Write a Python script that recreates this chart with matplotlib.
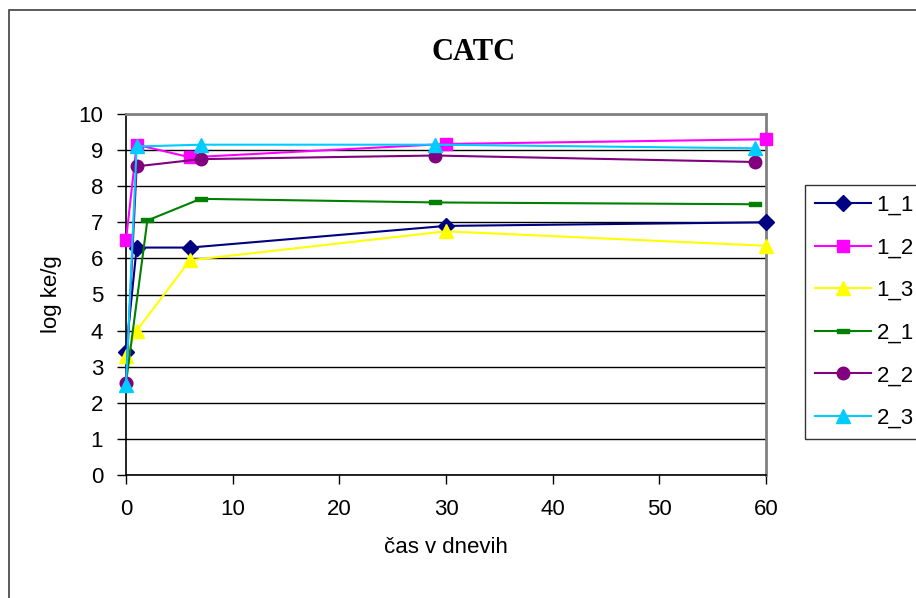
import matplotlib
matplotlib.use("Agg")
import matplotlib.pyplot as plt
from matplotlib.patches import Rectangle

title = "CATC"
xlabel = "čas v dnevih"
ylabel = "log ke/g"

labels = ["1_1", "1_2", "1_3", "2_1", "2_2", "2_3"]
x_1_1 = [0, 1, 6, 30, 60]
y_1_1 = [3.4, 6.3, 6.3, 6.9, 7.0]
x_1_2 = [0, 1, 6, 30, 60]
y_1_2 = [6.5, 9.15, 8.8, 9.17, 9.3]
x_1_3 = [0, 1, 6, 30, 60]
y_1_3 = [3.3, 4.0, 5.95, 6.75, 6.35]
x_2_1 = [0, 2, 7, 29, 59]
y_2_1 = [2.55, 7.05, 7.65, 7.55, 7.5]
x_2_2 = [0, 1, 7, 29, 59]
y_2_2 = [2.55, 8.55, 8.75, 8.85, 8.67]
x_2_3 = [0, 1, 7, 29, 59]
y_2_3 = [2.5, 9.1, 9.15, 9.15, 9.05]

xticks = [0, 10, 20, 30, 40, 50, 60]
yticks = list(range(0, 11))

plt.rcParams['font.family'] = ['Liberation Sans', 'DejaVu Sans']

FS = 16

fig = plt.figure(figsize=(9.16, 5.98), dpi=100)
ax = fig.add_axes([126/916, 1-475/598, (766-126)/916, (475-114)/598])

dash = [(-1, -0.33), (1, -0.33), (1, 0.33), (-1, 0.33), (-1, -0.33)]
styles = [
    dict(color="#000080", marker="D", ms=8),
    dict(color="#FF00FF", marker="s", ms=8),
    dict(color="#FFFF00", marker="^", ms=10),
    dict(color="#008000", marker=dash, ms=9),
    dict(color="#800080", marker="o", ms=9),
    dict(color="#00CCFF", marker="^", ms=10),
]
xs = [x_1_1, x_1_2, x_1_3, x_2_1, x_2_2, x_2_3]
ys = [y_1_1, y_1_2, y_1_3, y_2_1, y_2_2, y_2_3]
for x, y, lab, st in zip(xs, ys, labels, styles):
    ax.plot(x, y, lw=1.5, color=st["color"], marker=st["marker"], ms=st["ms"],
            mfc=st["color"], mec=st["color"], label=lab, clip_on=False, zorder=3)

ax.set_xlim(0, 60)
ax.set_ylim(0, 10)
ax.set_xticks(xticks)
ax.set_yticks(yticks)
ax.yaxis.grid(True, color="black", lw=1.0)
ax.set_axisbelow(True)
for s in ["top", "right"]:
    ax.spines[s].set_color("#808080")
    ax.spines[s].set_linewidth(2)
for s in ["left", "bottom"]:
    ax.spines[s].set_color("black")
    ax.spines[s].set_linewidth(1.2)
ax.tick_params(axis="both", direction="out", length=6.5, width=1, labelsize=FS, color="black")
ax.tick_params(axis="x", pad=11)
ax.tick_params(axis="y", pad=10)

ax.set_xlabel(xlabel, fontsize=FS, labelpad=12)
ax.set_ylabel(ylabel, fontsize=FS, labelpad=12)

fig.text(474/916, 1-52/598, title, ha="center", va="center",
         fontsize=22, fontweight="bold", family="Liberation Serif")

leg = ax.legend(loc="upper left", bbox_to_anchor=(805/916, 1-185/598),
                bbox_transform=fig.transFigure, frameon=True, fancybox=False,
                edgecolor="black", fontsize=FS, handlelength=2.5,
                labelspacing=0.97, borderpad=0.45, handletextpad=0.27,
                borderaxespad=0)
leg.get_frame().set_linewidth(1)

fig.patches.append(Rectangle((9/916, -0.1), 1.0, 1-10/598+0.1, transform=fig.transFigure,
                             fill=False, edgecolor="#404040", lw=1.2))

fig.savefig("out.png", dpi=100)
